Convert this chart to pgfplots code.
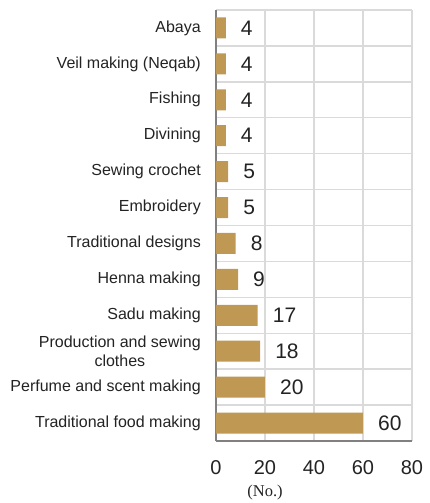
\documentclass[border=0pt]{standalone}
\usepackage{pgfplots}
\pgfplotsset{compat=1.18}
\usepackage{fontspec}
\setmainfont{Liberation Sans}
\newfontfamily\seriffont{Liberation Serif}
\definecolor{barc}{RGB}{191,152,84}
\definecolor{gridc}{RGB}{218,218,218}
\definecolor{axc}{RGB}{128,128,128}
\definecolor{txt}{RGB}{35,35,35}
\begin{document}
\begin{tikzpicture}
\begin{axis}[
  scale only axis, width=196pt, height=431pt,
  clip=false,
  xbar, bar width=21pt,
  xmin=0, xmax=80, ymin=-0.5, ymax=11.5,
  xtick={0,20,40,60,80},
  ytick={0,...,11},
  yticklabels={Traditional food making, Perfume and scent making, {Production and sewing\\clothes}, Sadu making, Henna making, Traditional designs, Embroidery, Sewing crochet, Divining, Fishing, Veil making (Neqab), Abaya},
  minor ytick={-0.5,0.5,...,11.5},
  yminorgrids, xmajorgrids,
  grid style={gridc, line width=1.4pt},
  minor grid style={gridc, line width=1.4pt},
  axis x line*=bottom, axis y line*=left,
  axis line style={-, axc, line width=1.6pt},
  major tick length=0pt, minor tick length=0pt,
  /pgf/number format/assume math mode=true,
  xticklabel style={font=\fontsize{20}{24}\selectfont, text=txt, inner sep=0pt, yshift=-19pt},
  yticklabel style={font=\fontsize{16}{19}\selectfont, text=txt, align=center, inner sep=0pt, xshift=-15pt},
  nodes near coords,
  nodes near coords style={font=\fontsize{21}{24}\selectfont, text=txt, anchor=west, inner sep=0pt, xshift=15pt},
]
\addplot[fill=barc, draw=none] coordinates {
  (60,0) (20,1) (18,2) (17,3) (9,4) (8,5) (5,6) (5,7) (4,8) (4,9) (4,10) (4,11)
};
\node[font=\seriffont\fontsize{16.5}{19}\selectfont, text=txt, inner sep=0pt] at (axis cs:20,-0.5) [yshift=-51.5pt] {(No.)};
\end{axis}
\pgfresetboundingbox
\path (current axis.south west) ++(-216pt,-62pt) rectangle ++(429pt,503pt);
\end{tikzpicture}
\end{document}
